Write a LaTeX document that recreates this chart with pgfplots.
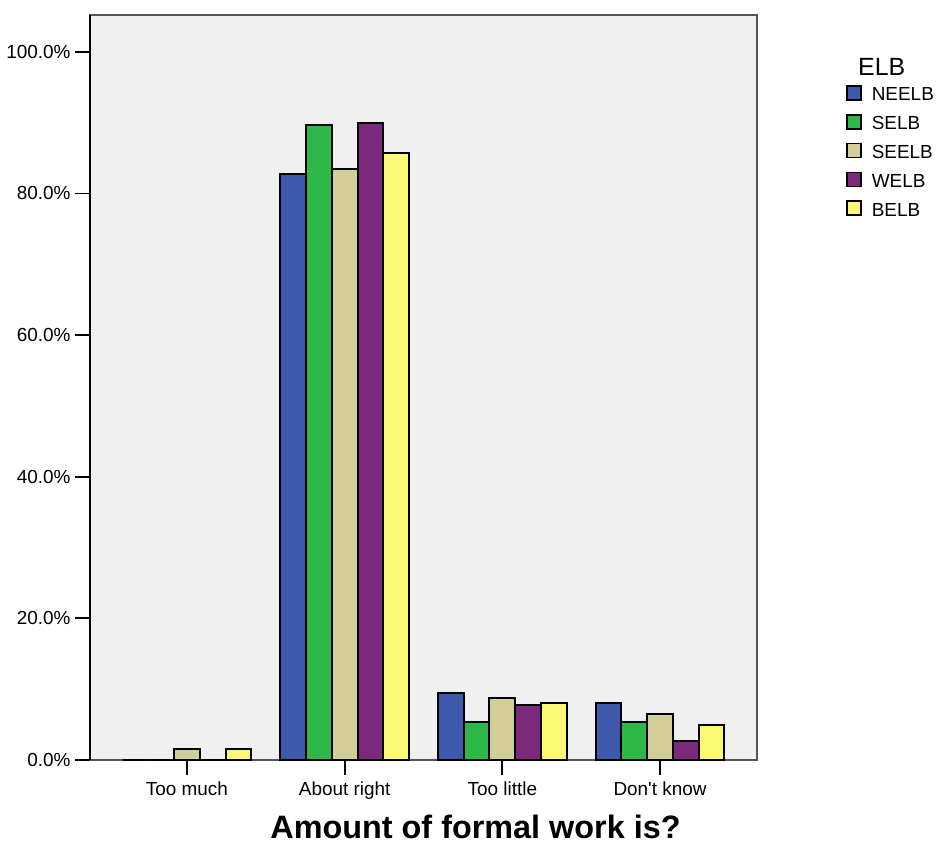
\documentclass[border=0pt]{standalone}
\usepackage{fontspec}
\setmainfont{Liberation Sans}[Ligatures=TeXOff]
\usepackage{pgfplots}
\pgfplotsset{compat=1.18}
\definecolor{cNEELB}{HTML}{3E58AC}
\definecolor{cSELB}{HTML}{2EB848}
\definecolor{cSEELB}{HTML}{D3CE97}
\definecolor{cWELB}{HTML}{7B287D}
\definecolor{cBELB}{HTML}{FBF873}
\definecolor{bgcol}{HTML}{F0F0F0}
\definecolor{framecol}{HTML}{555555}
\begin{document}
\begin{tikzpicture}
\useasboundingbox (0,0) rectangle (936bp,845bp);
\begin{axis}[
  at={(90bp,85bp)}, anchor=south west,
  scale only axis, width=667bp, height=745bp,
  ybar=0pt, bar width=0.163,
  xmin=-0.615, xmax=3.615, ymin=0, ymax=105.2,
  xtick={0,1,2,3},
  xticklabels={Too much,About right,Too little,Don't know},
  ytick={0,20,...,100},
  yticklabel={\pgfmathprintnumber[fixed,fixed zerofill,precision=1]{\tick}\%},
  /pgf/number format/assume math mode=true,
  tick pos=left,
  tick align=outside,
  major tick length=15bp,
  every tick/.style={black, line width=1.8bp},
  axis background/.style={fill=bgcol},
  axis line style={draw=framecol, line width=1.2bp},
  clip=false,
  tick label style={font=\fontsize{19}{22}\selectfont},
  xticklabel style={yshift=-3bp},
  yticklabel style={xshift=-1bp},
  xlabel={Amount of formal work is?},
  xlabel style={font=\bfseries\fontsize{32.5}{36}\selectfont, inner sep=0pt, at={(axis description cs:0.5,0)}, anchor=base, xshift=52bp, yshift=-78bp},
  legend style={at={(rel axis cs:1,1)}, anchor=north west, xshift=89bp, yshift=-70bp,
    draw=none, fill=none, inner sep=0pt, font=\fontsize{19}{22}\selectfont,
    row sep=10bp, column sep=10bp,
    nodes={inner sep=0pt, text height=13bp, text depth=3bp}},
  legend cell align=left,
  legend image code/.code={\draw[#1,draw=black,line width=1.6bp] (0bp,-4bp) rectangle (14bp,10bp);},
  every axis plot/.append style={draw=black, line width=2bp},
]
\addplot[fill=cNEELB] coordinates {(0,0) (1,82.8) (2,9.5) (3,8.0)};
\addplot[fill=cSELB] coordinates {(0,0) (1,89.7) (2,5.3) (3,5.3)};
\addplot[fill=cSEELB] coordinates {(0,1.6) (1,83.5) (2,8.8) (3,6.5)};
\addplot[fill=cWELB] coordinates {(0,0) (1,90.0) (2,7.7) (3,2.7)};
\addplot[fill=cBELB] coordinates {(0,1.6) (1,85.7) (2,8.1) (3,4.9)};
\legend{NEELB,SELB,SEELB,WELB,BELB}
\draw[black, line width=1.5bp] (rel axis cs:0,0) -- (rel axis cs:0,1);
\node[anchor=base west, inner sep=0pt, font=\fontsize{25}{29}\selectfont, xshift=101bp, yshift=-61bp] at (rel axis cs:1,1) {ELB};
\end{axis}
\end{tikzpicture}
\end{document}
